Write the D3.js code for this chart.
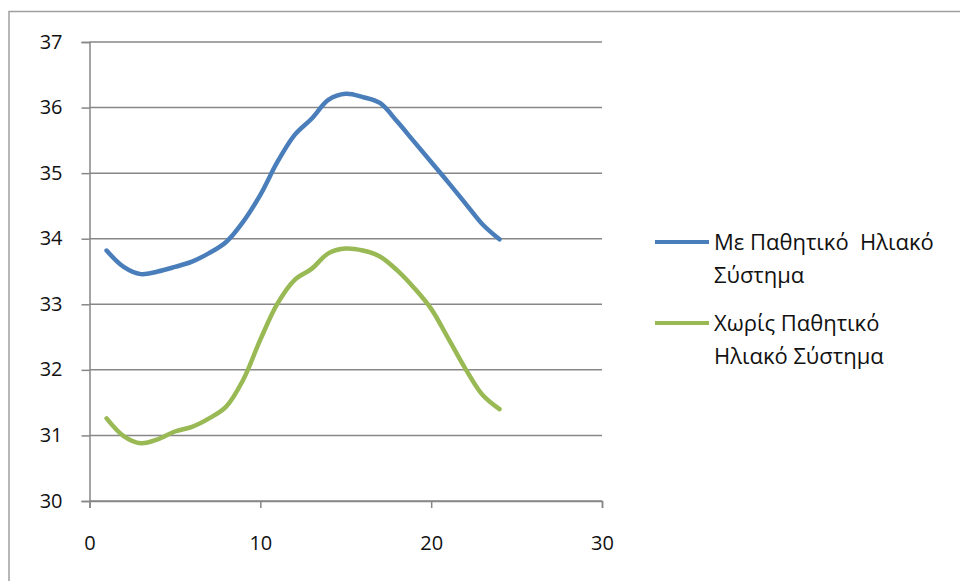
<!DOCTYPE html>
<html>
<head>
<meta charset="utf-8">
<script src="https://cdn.jsdelivr.net/npm/d3@7"></script>
<style>
  html, body { margin: 0; padding: 0; background: #fff; }
  svg { display: block; }
  text { font-family: "Open Sans", "Noto Sans", sans-serif; fill: #111; }
</style>
</head>
<body>
<svg id="chart" width="960" height="581"></svg>
<script>
// Hours of the day
const hours = [1,2,3,4,5,6,7,8,9,10,11,12,13,14,15,16,17,18,19,20,21,22,23,24];

// Temperature with passive solar system
const withPassive = [33.82,33.57,33.46,33.50,33.57,33.65,33.78,33.95,34.26,34.67,35.17,35.58,35.83,36.12,36.21,36.16,36.07,35.79,35.48,35.17,34.86,34.54,34.22,33.99];

// Temperature without passive solar system
const withoutPassive = [31.26,30.99,30.88,30.94,31.06,31.13,31.26,31.44,31.85,32.46,33.01,33.37,33.54,33.78,33.85,33.82,33.73,33.52,33.25,32.93,32.48,32.02,31.62,31.40];

const seriesNames = [
  ["Με Παθητικό\u00a0\u00a0Ηλιακό", "Σύστημα"],
  ["Χωρίς Παθητικό", "Ηλιακό Σύστημα"]
];
const seriesColors = ["#4a7ebb", "#98b954"];

const xTicks = [0, 10, 20, 30];
const yTicks = [30, 31, 32, 33, 34, 35, 36, 37];

const svg = d3.select("#chart");

// Outer chart frame
svg.append("rect")
  .attr("x", 9).attr("y", 11.5)
  .attr("width", 1000).attr("height", 700)
  .attr("fill", "none")
  .attr("stroke", "#a0a0a0")
  .attr("stroke-width", 1.5);

const x = d3.scaleLinear().domain([0, 30]).range([89.5, 602]);
const y = d3.scaleLinear().domain([30, 37]).range([501, 42]);

// Horizontal gridlines
svg.append("g")
  .selectAll("line")
  .data(yTicks)
  .join("line")
  .attr("x1", x(0)).attr("x2", x(30))
  .attr("y1", d => y(d)).attr("y2", d => y(d))
  .attr("stroke", "#878787")
  .attr("stroke-width", 1.5);

const tickFont = "'Open Sans', 'Noto Sans', sans-serif";

// Y axis
const yAxis = svg.append("g")
  .attr("transform", `translate(${x(0)},0)`)
  .call(d3.axisLeft(y).tickValues(yTicks).tickFormat(d3.format("d")).tickSize(8).tickPadding(19));
yAxis.select(".domain").attr("stroke", "#878787").attr("stroke-width", 1.5);
yAxis.selectAll(".tick line").attr("stroke", "#878787").attr("stroke-width", 1.5);
yAxis.selectAll(".tick text").attr("font-size", 20).attr("fill", "#111")
  .attr("font-family", tickFont).attr("dy", "0.3em");

// X axis
const xAxis = svg.append("g")
  .attr("transform", `translate(0,${y(30)})`)
  .call(d3.axisBottom(x).tickValues(xTicks).tickFormat(d3.format("d")).tickSize(7).tickPadding(28));
xAxis.select(".domain").attr("stroke", "#878787").attr("stroke-width", 1.5);
xAxis.selectAll(".tick line").attr("stroke", "#878787").attr("stroke-width", 1.5);
xAxis.selectAll(".tick text").attr("font-size", 20).attr("fill", "#111")
  .attr("font-family", tickFont);

// Smoothed series lines
const line = d3.line()
  .x((d, i) => x(hours[i]))
  .y(d => y(d))
  .curve(d3.curveCatmullRom.alpha(0.5));

[withPassive, withoutPassive].forEach((vals, i) => {
  svg.append("path")
    .datum(vals)
    .attr("d", line)
    .attr("fill", "none")
    .attr("stroke", seriesColors[i])
    .attr("stroke-width", 4.5)
    .attr("stroke-linecap", "round")
    .attr("stroke-linejoin", "round");
});

// Legend
const legendTop = [242, 323];
const legend = svg.append("g");
seriesNames.forEach((lines, i) => {
  const g = legend.append("g").attr("transform", `translate(0,${legendTop[i]})`);
  g.append("line")
    .attr("x1", 655).attr("x2", 709)
    .attr("y1", 0).attr("y2", 0)
    .attr("stroke", seriesColors[i])
    .attr("stroke-width", 4);
  const t = g.append("text")
    .attr("x", 714).attr("y", 0)
    .attr("font-size", 22);
  lines.forEach((s, j) => {
    t.append("tspan")
      .attr("x", 714)
      .attr("y", j * 33)
      .attr("dy", "0.35em")
      .text(s);
  });
});
</script>
</body>
</html>
